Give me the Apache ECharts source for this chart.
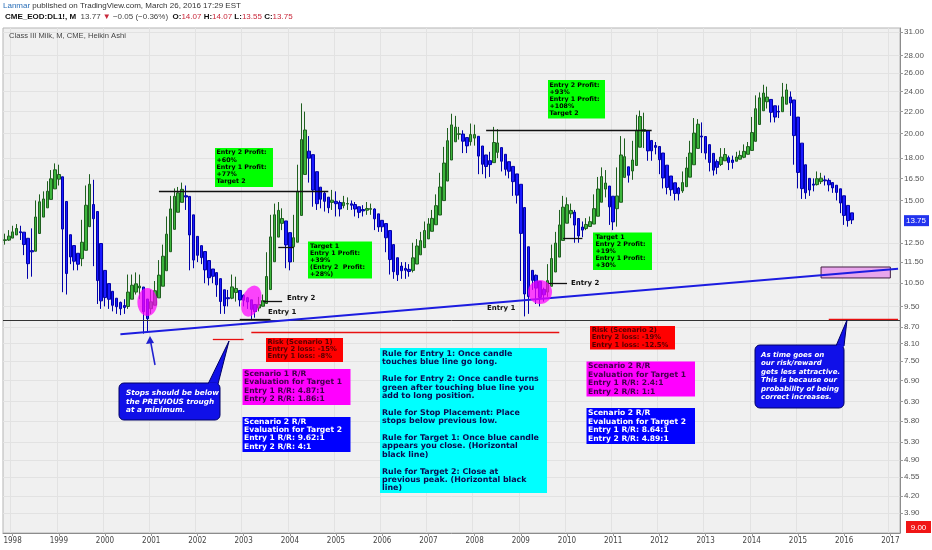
<!DOCTYPE html>
<html><head><meta charset="utf-8">
<script src="https://cdn.jsdelivr.net/npm/echarts@6/dist/echarts.min.js"></script>
<style>html,body{margin:0;padding:0;background:#fff}#c{width:932px;height:550px}</style>
</head><body><div id="c"></div>
<script>
// ---- categories: monthly, Nov 1997 .. Mar 2017
const categories = [];
for (let y = 1997, m = 11; !(y === 2017 && m === 4);) {
  categories.push(y + '-' + String(m).padStart(2, '0'));
  m++; if (m > 12) { m = 1; y++; }
}
// ---- underlying monthly bars (Nov 1997 .. Mar 2016)
const firstOpen = 12.50;
const monthClose = [
 12.75, 12.90,
 13.25, 13.32, 12.81, 12.01, 10.88, 13.10, 14.77, 14.99, 15.10, 16.04, 16.84, 17.34,
 16.27, 10.27, 11.62, 11.81, 11.26, 11.42, 13.59, 15.79, 16.26, 11.49, 9.79, 9.63,
 10.05, 9.54, 9.54, 9.41, 9.37, 9.46, 10.66, 10.13, 10.76, 10.02, 8.57, 9.37,
 9.99, 10.27, 11.42, 12.06, 13.83, 15.02, 15.46, 15.55, 15.90, 14.60, 11.31, 11.80,
 11.87, 11.63, 10.65, 10.85, 10.82, 10.09, 9.33, 9.66, 9.92, 10.72, 9.84, 9.74,
 9.78, 9.66, 9.11, 9.41, 9.71, 9.75, 11.78, 13.80, 14.30, 14.39, 13.41, 11.42,
 11.61, 13.89, 17.20, 21.00, 19.50, 16.50, 14.85, 14.72, 15.39, 14.50, 14.54, 15.43,
 14.14, 14.70, 15.00, 14.61, 14.77, 14.16, 14.35, 14.31, 14.65, 14.38, 13.35, 13.37,
 13.39, 12.20, 11.11, 10.93, 10.83, 11.29, 10.92, 11.06, 12.29, 12.32, 12.84, 13.47,
 13.56, 14.18, 15.09, 16.60, 18.60, 20.13, 21.38, 19.83, 20.07, 18.70, 19.22, 20.60,
 19.32, 17.03, 18.00, 16.76, 18.18, 20.25, 18.24, 17.32, 17.00, 17.06, 15.51, 15.28,
 10.78, 9.31, 10.44, 10.78, 9.84, 9.97, 9.97, 11.20, 12.11, 12.82, 14.08, 15.01,
 14.50, 14.28, 12.78, 12.92, 13.38, 13.62, 13.74, 15.18, 16.26, 16.94, 15.44, 13.83,
 13.48, 17.00, 19.40, 16.87, 16.52, 19.11, 21.39, 21.67, 19.07, 18.03, 19.07, 18.77,
 17.05, 16.06, 15.72, 15.72, 15.23, 15.63, 16.68, 17.73, 19.00, 21.02, 20.83, 18.66,
 18.14, 17.25, 16.93, 17.59, 18.52, 18.02, 17.38, 17.91, 18.14, 18.22, 18.83, 18.95,
 21.15, 23.35, 23.33, 24.31, 22.57, 21.36, 21.60, 22.25, 24.60, 23.82, 21.94, 17.82,
 16.18, 15.46, 15.56, 15.81, 16.19, 16.72, 16.33, 16.27, 15.82, 15.82, 15.30, 14.44,
 13.72, 13.80, 13.75
];
const monthHigh = [
 13.00, 13.20,
 13.45, 13.55, 13.45, 12.95, 12.10, 13.30, 15.00, 15.40, 15.60, 16.30, 17.10, 17.60,
 17.50, 16.40, 11.90, 12.20, 12.00, 11.80, 13.80, 16.00, 16.80, 16.40, 11.60, 10.10,
 10.30, 10.20, 9.80, 9.80, 9.70, 9.80, 10.90, 10.90, 11.00, 10.90, 10.10, 9.60,
 10.20, 10.60, 11.60, 12.40, 14.00, 15.30, 15.80, 15.90, 16.20, 16.00, 14.70, 12.10,
 12.20, 12.00, 11.70, 11.10, 11.10, 10.90, 10.20, 9.90, 10.20, 10.90, 10.80, 10.00,
 10.00, 9.90, 9.75, 9.60, 9.90, 10.00, 12.00, 14.10, 14.80, 14.90, 14.50, 13.50,
 11.90, 14.10, 17.50, 22.80, 22.00, 19.80, 16.80, 15.20, 15.70, 15.60, 14.90, 15.70,
 15.60, 15.00, 15.30, 15.20, 15.00, 14.90, 14.60, 14.70, 14.90, 14.80, 14.50, 13.70,
 13.70, 13.50, 12.30, 11.40, 11.20, 11.50, 11.50, 11.40, 12.50, 12.70, 13.10, 13.70,
 13.90, 14.40, 15.40, 16.90, 18.90, 20.50, 21.80, 21.60, 20.60, 20.30, 19.60, 20.90,
 20.80, 19.50, 18.30, 18.20, 18.50, 20.60, 20.40, 18.50, 17.60, 17.50, 17.20, 15.80,
 15.40, 10.90, 10.70, 11.10, 10.90, 10.20, 10.30, 11.40, 12.40, 13.10, 14.40, 15.30,
 15.20, 14.80, 14.40, 13.30, 13.70, 13.90, 14.00, 15.40, 16.60, 17.30, 17.10, 15.60,
 14.20, 17.30, 19.80, 19.60, 17.30, 19.40, 21.70, 22.10, 21.90, 19.40, 19.40, 19.30,
 18.90, 17.20, 16.30, 16.10, 15.90, 15.90, 17.00, 18.10, 19.40, 21.40, 21.30, 21.00,
 18.90, 18.30, 17.50, 17.90, 18.80, 18.80, 18.20, 18.20, 18.50, 18.60, 19.10, 19.30,
 21.50, 23.60, 23.90, 24.70, 24.50, 22.80, 22.00, 22.60, 24.90, 24.80, 24.00, 22.10,
 17.90, 16.40, 15.90, 16.10, 16.50, 17.00, 16.90, 16.70, 16.50, 16.20, 16.00, 15.40,
 14.60, 14.10, 14.07
];
const monthLow = [
 12.40, 12.60,
 12.80, 13.05, 12.65, 11.85, 10.70, 10.80, 13.00, 14.50, 14.70, 15.00, 15.90, 16.70,
 16.00, 10.10, 10.00, 11.40, 11.10, 11.10, 11.30, 13.40, 15.50, 11.30, 9.60, 9.40,
 9.50, 9.40, 9.30, 9.20, 9.15, 9.20, 9.40, 9.95, 10.00, 9.80, 8.45, 8.50,
 9.20, 9.80, 10.20, 11.30, 12.00, 13.70, 14.80, 15.10, 15.30, 14.40, 11.10, 11.20,
 11.50, 11.40, 10.50, 10.40, 10.50, 9.90, 9.20, 9.20, 9.50, 9.80, 9.70, 9.50,
 9.50, 9.40, 9.00, 9.05, 9.30, 9.50, 9.70, 11.60, 13.50, 13.90, 13.20, 11.20,
 11.10, 11.50, 13.80, 17.00, 18.80, 16.20, 14.60, 14.40, 14.50, 14.30, 14.20, 14.40,
 14.00, 14.00, 14.50, 14.40, 14.40, 14.00, 13.90, 14.00, 14.10, 14.10, 13.20, 13.10,
 13.10, 12.00, 10.90, 10.70, 10.60, 10.70, 10.70, 10.80, 11.00, 12.00, 12.20, 12.70,
 13.30, 13.40, 14.00, 15.00, 16.40, 18.40, 19.80, 19.50, 19.50, 18.40, 18.40, 19.00,
 19.00, 16.80, 16.80, 16.50, 16.60, 18.00, 18.00, 17.00, 16.70, 16.50, 15.30, 14.80,
 10.60, 9.10, 9.20, 10.20, 9.60, 9.50, 9.70, 9.90, 11.00, 11.90, 12.70, 13.90,
 14.20, 13.90, 12.50, 12.50, 12.80, 13.20, 13.40, 13.60, 15.00, 16.00, 15.20, 13.50,
 13.20, 13.40, 16.80, 16.60, 16.20, 16.40, 19.00, 21.00, 18.80, 17.80, 17.80, 18.30,
 16.80, 15.80, 15.40, 15.30, 15.00, 15.00, 15.50, 16.50, 17.50, 18.80, 20.20, 18.40,
 17.90, 17.00, 16.70, 16.80, 17.40, 17.80, 17.10, 17.20, 17.80, 17.90, 18.00, 18.60,
 18.80, 21.00, 22.80, 23.00, 22.30, 21.00, 21.00, 21.40, 22.00, 23.40, 21.60, 17.50,
 15.80, 15.10, 15.10, 15.30, 15.60, 16.00, 16.10, 16.00, 15.60, 15.50, 15.00, 14.20,
 13.50, 13.40, 13.55
];
// ---- price axis tick labels (log scale)
const priceTicks = [31, 28, 26, 24, 22, 20, 18, 16.5, 15, 12.5, 11.5, 10.5, 9.5, 8.7, 8.1, 7.5, 6.9, 6.3, 5.8, 5.3, 4.9, 4.55, 4.2, 3.9];
const lastPrice = 13.75;
// ---- annotation levels (price) and spans (category index)
const hLines = [ // [fromIdx, toIdx, price, color]
  [40, 84, 15.63, '#111'],   // target 2, scenario 1
  [61, 69, 9.00, '#111'],    // entry 1 (2003)
  [67, 72, 9.72, '#111'],    // entry 2 (2003)
  [71, 75, 12.27, '#111'],   // target 1 (2003)
  [125, 168, 20.30, '#111'], // target 2, scenario 2
  [141, 146, 10.51, '#111'], // entry 2 (2009)
  [145, 150, 12.76, '#111'], // target 1 (2010)
  [54, 62, 8.26, '#e81010'], // stop lines
  [64, 144, 8.51, '#e81010'],
  [214, 232, 9.00, '#e81010']
];
const baseLine = 8.90;
const trendLine = [[30, 8.43], [232, 11.18]];
const futureBox = [212, 230, 11.26, 10.74];
const circles = [[37, 9.68, 20, 28, 0], [64, 9.72, 19, 32, -18], [139, 10.11, 24, 24, 0]];

const L = Math.log;
// Heikin Ashi transform of the monthly bars
const ha = [];
let pO, pC;
for (let i = 0; i < monthClose.length; i++) {
  const o = i === 0 ? firstOpen : monthClose[i - 1];
  const h = monthHigh[i], l = monthLow[i], c = monthClose[i];
  const hc = (o + h + l + c) / 4;
  const ho = i === 0 ? (o + c) / 2 : (pO + pC) / 2;
  ha.push([L(ho), L(hc), L(Math.min(l, ho, hc)), L(Math.max(h, ho, hc))]);
  pO = ho; pC = hc;
}

const isJan = (i, v) => v.endsWith('-01');
const font = 'DejaVu Sans';

function box(x, y, w, h, fill, lines, color, fs, lh, tx, ty, italic, r, stroke) {
  return {
    type: 'group', z: 100, children: [
      { type: 'rect', z: 100, shape: { x, y, width: w, height: h, r: r || 0 }, style: { fill, stroke: stroke || null, lineWidth: 1 } },
      { type: 'text', z: 101, style: { x: tx, y: ty, text: lines.join('\n'), fill: color, font: (italic ? 'italic ' : '') + 'bold ' + fs + 'px "' + font + '"', lineHeight: lh, verticalAlign: 'top', align: 'left' } }
    ]
  };
}
function label(x, y, t) {
  return { type: 'text', z: 100, style: { x, y, text: t, fill: '#111', font: 'bold 7px "' + font + '"', verticalAlign: 'middle' } };
}

const G = '#00ff00', R = '#ff0000', M = '#ff00ff', B = '#0000ff', C = '#00ffff';
const CB = '#1010e8';
const graphics = [
  { type: 'text', z: 100, style: { x: 3, y: 2, text: '{a|Lanmar}{b| published on TradingView.com, March 26, 2016 17:29 EST}', rich: { a: { fill: '#2a6fb8', font: '8px "Liberation Sans"' }, b: { fill: '#333', font: '8px "Liberation Sans"' } } } },
  { type: 'text', z: 100, style: { x: 5, y: 13, text: '{k|CME_EOD:DL1!, M}{g|  13.77 }{r|▼}{g| \u22120.05 (\u22120.36%)  }{k|O:}{r|14.07}{k| H:}{r|14.07}{k| L:}{r|13.55}{k| C:}{r|13.75}',
    rich: { k: { fill: '#111', font: 'bold 8px "Liberation Sans"' }, g: { fill: '#444', font: '8px "Liberation Sans"' }, r: { fill: '#c8283a', font: '8px "Liberation Sans"' } } } },
  { type: 'text', z: 100, style: { x: 9, y: 32, text: 'Class III Milk, M, CME, Heikin Ashi', fill: '#444', font: '7.6px "Liberation Sans"' } },
  box(215, 148, 58, 39, G, ['Entry 2 Profit:', '+60%', 'Entry 1 Profit:', '+77%', 'Target 2'], '#000', 6.3, 7.3, 216.5, 149),
  box(308, 241.5, 64, 37, G, ['Target 1', 'Entry 1 Profit:', '+39%', '(Entry 2  Profit:', '+28%)'], '#000', 6.3, 7.2, 310, 242.4),
  box(548, 80, 57, 38.5, G, ['Entry 2 Profit:', '+93%', 'Entry 1 Profit:', '+108%', 'Target 2'], '#000', 6.3, 7.1, 549.5, 81.5),
  box(593, 232.5, 59, 37.5, G, ['Target 1', 'Entry 2 Profit:', '+19%', 'Entry 1 Profit:', '+30%'], '#000', 6.3, 7.0, 595.5, 233.8),
  box(266, 338, 77, 24, R, ['Risk (Scenario 1)', 'Entry 2 loss: -15%', 'Entry 1 loss: -8%'], '#550000', 6.8, 7.2, 267.5, 338.7),
  box(242.5, 369, 108, 36, M, ['Scenario 1 R/R', 'Evaluation for Target 1', 'Entry 1 R/R: 4.87:1', 'Entry 2 R/R: 1.86:1'], '#40004a', 7.6, 8.45, 244, 369.8),
  box(242.5, 417, 108, 35, B, ['Scenario 2 R/R', 'Evaluation for Target 2', 'Entry 1 R/R: 9.62:1', 'Entry 2 R/R: 4:1'], '#fff', 7.6, 8.3, 244, 417.5),
  box(380, 348, 167, 145, C, ['Rule for Entry 1: Once candle', 'touches blue line go long.', '', 'Rule for Entry 2: Once candle turns', 'green after touching blue line you', 'add to long position.', '', 'Rule for Stop Placement: Place', 'stops below previous low.', '', 'Rule for Target 1: Once blue candle', 'appears you close. (Horizontal', 'black line)', '', 'Rule for Target 2: Close at', 'previous peak. (Horizontal black', 'line)'], '#0a0a50', 7.9, 8.4, 382, 349.8),
  box(590, 326, 85, 23.5, R, ['Risk (Scenario 2)', 'Entry 2 loss: -19%', 'Entry 1 loss: -12.5%'], '#550000', 6.8, 7.5, 591.7, 326.3),
  box(586.5, 361.5, 108.5, 35, M, ['Scenario 2 R/R', 'Evaluation for Target 1', 'Entry 1 R/R: 2.4:1', 'Entry 2 R/R: 1:1'], '#40004a', 7.6, 8.55, 588, 361.7),
  box(586.5, 408, 108.5, 36, B, ['Scenario 2 R/R', 'Evaluation for Target 2', 'Entry 1 R/R: 8.64:1', 'Entry 2 R/R: 4.89:1'], '#fff', 7.6, 8.55, 588, 409),
  { type: 'polygon', z: 100, shape: { points: [[208, 384], [218, 384], [229, 341]] }, style: { fill: CB, stroke: '#000066', lineWidth: 1 } },
  box(119, 383, 101, 37, CB, ['Stops should be below', 'the PREVIOUS trough', 'at a minimum.'], '#fff', 7.3, 8.4, 126, 389.1, true, 5, '#000066'),
  { type: 'polygon', z: 100, shape: { points: [[836, 346], [844, 346], [847, 320]] }, style: { fill: CB, stroke: '#000066', lineWidth: 1 } },
  box(755, 345, 89, 63, CB, ['As time goes on', 'our risk/reward', 'gets less attractive.', 'This is because our', 'probability of being', 'correct increases.'], '#fff', 7.0, 8.5, 761, 350.8, true, 5, '#000066'),
  { type: 'rect', z: 102, shape: { x: 209, y: 382.5, width: 8.5, height: 2.5 }, style: { fill: CB } },
  { type: 'rect', z: 102, shape: { x: 837, y: 344.5, width: 6.5, height: 2.5 }, style: { fill: CB } },
  { type: 'line', z: 100, shape: { x1: 155, y1: 365, x2: 150.5, y2: 341 }, style: { stroke: '#2020d0', lineWidth: 1.5 } },
  { type: 'polygon', z: 100, shape: { points: [[150, 336], [146, 344], [154, 343]] }, style: { fill: '#2020d0' } },
  label(287, 298, 'Entry 2'), label(268, 312, 'Entry 1'),
  label(571, 283, 'Entry 2'), label(487, 308.5, 'Entry 1'),
  { type: 'rect', z: 100, shape: { x: 906, y: 521, width: 25, height: 12 }, style: { fill: '#f01616' } },
  { type: 'text', z: 101, style: { x: 918.5, y: 527.5, text: '9.00', fill: '#fff', font: '8px "Liberation Sans"', align: 'center', verticalAlign: 'middle' } }
];

const markLineData = hLines.map(([a, b, p, col]) => [
  { coord: [a, L(p)], lineStyle: { color: col, width: 1.3, type: 'solid' } }, { coord: [b, L(p)] }
]);
markLineData.push({ yAxis: L(baseLine), lineStyle: { color: '#333', width: 1, type: 'solid' } });
markLineData.push([{ coord: [trendLine[0][0], L(trendLine[0][1])], lineStyle: { color: '#1c1ce0', width: 2, type: 'solid' } }, { coord: [trendLine[1][0], L(trendLine[1][1])] }]);

const chart = echarts.init(document.getElementById('c'), null, { renderer: 'canvas' });
chart.setOption({
  animation: false,
  backgroundColor: '#ffffff',
  grid: { left: 3, right: 26, top: 28, bottom: 17, show: true, backgroundColor: '#f0f0f0', borderColor: '#b5b5b5', borderWidth: 1 },
  xAxis: {
    type: 'category', data: categories, boundaryGap: true,
    axisLine: { lineStyle: { color: '#8c8c8c' } },
    axisTick: { show: true, alignWithLabel: true, interval: isJan, length: 3, lineStyle: { color: '#999' } },
    axisLabel: { interval: isJan, formatter: v => v.slice(0, 4), fontSize: 8, color: '#444', margin: 4, fontFamily: 'DejaVu Sans Condensed' },
    splitLine: { show: true, interval: isJan, lineStyle: { color: '#e2e2e2' } }
  },
  yAxis: {
    type: 'value', position: 'right', min: L(3.577), max: L(31.55),
    axisLine: { show: true, lineStyle: { color: '#8c8c8c' } },
    axisTick: { show: true, length: 3, customValues: priceTicks.map(L), lineStyle: { color: '#999' } },
    axisLabel: {
      customValues: priceTicks.concat([lastPrice]).map(L), fontSize: 8, color: '#555', margin: 4, fontFamily: 'Liberation Sans',
      formatter: v => { const p = Math.exp(v); return Math.abs(p - lastPrice) < 1e-6 ? '{cur|13.75}' : p.toFixed(2); },
      rich: { cur: { backgroundColor: '#2233ee', color: '#fff', padding: [2, 3, 1, 2], fontSize: 8, fontFamily: 'Liberation Sans' } }
    },
    splitLine: { show: true, lineStyle: { color: '#e2e2e2' } }
  },
  series: [{
    type: 'candlestick', data: ha, barWidth: 3,
    itemStyle: { color: '#3db53d', color0: '#1a1aff', borderColor: '#1f5f1f', borderColor0: '#0000a8', borderWidth: 1 },
    markLine: { symbol: 'none', silent: true, label: { show: false }, data: markLineData },
    markArea: { silent: true, data: [[{ coord: [futureBox[0], L(futureBox[2])], itemStyle: { color: '#e8a6ec', borderColor: '#402040', borderWidth: 1 } }, { coord: [futureBox[1], L(futureBox[3])] }]] },
    markPoint: { silent: true, label: { show: false }, data: circles.map(([i, p, w, h, rot]) => ({ coord: [i, L(p)], symbol: 'circle', symbolSize: [w, h], symbolRotate: rot, itemStyle: { color: 'rgba(255,0,255,0.72)' } })) }
  }],
  graphic: graphics
});
</script></body></html>
